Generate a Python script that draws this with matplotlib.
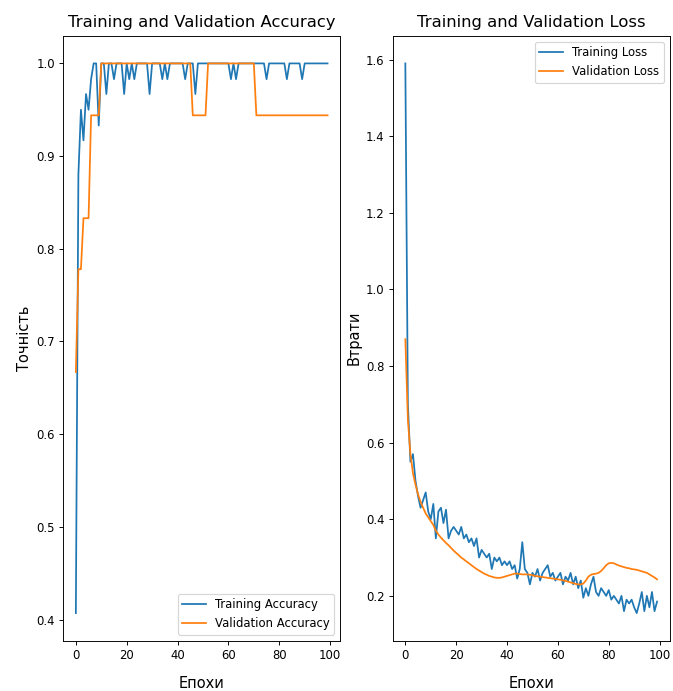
import matplotlib
matplotlib.use("Agg")
import matplotlib.pyplot as plt

epochs_range = range(100)

acc = [0.407, 0.88, 0.95, 0.917, 0.967, 0.95, 0.983, 1.0, 1.0, 0.933,
       1.0, 1.0, 0.967, 1.0, 1.0, 0.983, 1.0, 1.0, 1.0, 0.967,
       1.0, 0.983, 1.0, 0.983, 1.0, 1.0, 1.0, 1.0, 1.0, 0.967,
       1.0, 1.0, 1.0, 1.0, 0.983, 1.0, 0.983, 1.0, 1.0, 1.0,
       1.0, 1.0, 1.0, 0.983, 1.0, 1.0, 1.0, 0.967, 1.0, 1.0,
       1.0, 1.0, 1.0, 1.0, 1.0, 1.0, 1.0, 1.0, 1.0, 1.0,
       1.0, 0.983, 1.0, 0.983, 1.0, 1.0, 1.0, 1.0, 1.0, 1.0,
       1.0, 1.0, 1.0, 1.0, 1.0, 0.983, 1.0, 1.0, 1.0, 1.0,
       1.0, 1.0, 1.0, 0.983, 1.0, 1.0, 1.0, 1.0, 1.0, 0.983,
       1.0, 1.0, 1.0, 1.0, 1.0, 1.0, 1.0, 1.0, 1.0, 1.0]

val_acc = [0.667, 0.778, 0.778, 0.833, 0.833, 0.833, 0.944, 0.944, 0.944, 0.944] \
    + [1.0] * 36 + [0.944] * 6 + [1.0] * 19 + [0.944] * 29

loss = [1.59, 0.70, 0.55, 0.57, 0.50, 0.46, 0.43, 0.45, 0.47, 0.42,
        0.40, 0.44, 0.35, 0.42, 0.43, 0.39, 0.425, 0.35, 0.37, 0.38,
        0.37, 0.36, 0.38, 0.35, 0.36, 0.34, 0.35, 0.33, 0.35, 0.30,
        0.32, 0.31, 0.30, 0.31, 0.27, 0.30, 0.29, 0.30, 0.28, 0.29,
        0.28, 0.29, 0.27, 0.28, 0.245, 0.27, 0.34, 0.27, 0.26, 0.23,
        0.26, 0.25, 0.27, 0.24, 0.26, 0.27, 0.28, 0.25, 0.26, 0.24,
        0.25, 0.26, 0.23, 0.25, 0.24, 0.26, 0.23, 0.25, 0.22, 0.24,
        0.195, 0.22, 0.20, 0.23, 0.25, 0.21, 0.20, 0.22, 0.21, 0.20,
        0.215, 0.19, 0.20, 0.19, 0.18, 0.20, 0.16, 0.19, 0.18, 0.19,
        0.17, 0.155, 0.18, 0.21, 0.16, 0.20, 0.17, 0.21, 0.16, 0.185]

val_loss = [0.87, 0.66, 0.57, 0.52, 0.49, 0.465, 0.445, 0.43, 0.415, 0.405,
            0.395, 0.385, 0.37, 0.36, 0.352, 0.345, 0.338, 0.332, 0.325, 0.318,
            0.312, 0.306, 0.30, 0.295, 0.29, 0.285, 0.28, 0.275, 0.27, 0.266,
            0.262, 0.258, 0.255, 0.252, 0.25, 0.248, 0.247, 0.247, 0.248, 0.25,
            0.252, 0.254, 0.256, 0.258, 0.258, 0.257, 0.256, 0.256, 0.256, 0.255,
            0.254, 0.252, 0.251, 0.25, 0.249, 0.248, 0.247, 0.246, 0.245, 0.244,
            0.243, 0.242, 0.24, 0.239, 0.237, 0.235, 0.233, 0.231, 0.23, 0.23,
            0.232, 0.24, 0.25, 0.255, 0.257, 0.258, 0.26, 0.265, 0.272, 0.28,
            0.285, 0.286, 0.285, 0.282, 0.279, 0.277, 0.275, 0.273, 0.272, 0.27,
            0.269, 0.268, 0.266, 0.264, 0.262, 0.26, 0.256, 0.252, 0.248, 0.243]

plt.figure(figsize=(673 / 84, 691 / 84), dpi=84)

plt.subplot(1, 2, 1)
plt.plot(epochs_range, acc, label='Training Accuracy')
plt.plot(epochs_range, val_acc, label='Validation Accuracy')
plt.legend(loc='lower right', fontsize=10)
plt.title('Training and Validation Accuracy', fontsize=14, pad=8)
plt.xlabel('Епохи', fontsize=12.5, labelpad=12)
plt.ylabel('Точність', fontsize=12.5)

plt.subplot(1, 2, 2)
plt.plot(epochs_range, loss, label='Training Loss')
plt.plot(epochs_range, val_loss, label='Validation Loss')
plt.legend(loc='upper right', fontsize=10)
plt.title('Training and Validation Loss', fontsize=14, pad=8)
plt.xlabel('Епохи', fontsize=12.5, labelpad=12)
plt.ylabel('Втрати', fontsize=12.5)

plt.subplots_adjust(left=0.094, right=0.995, bottom=0.073, top=0.948, wspace=0.19)
plt.savefig('out.png', dpi=84)
